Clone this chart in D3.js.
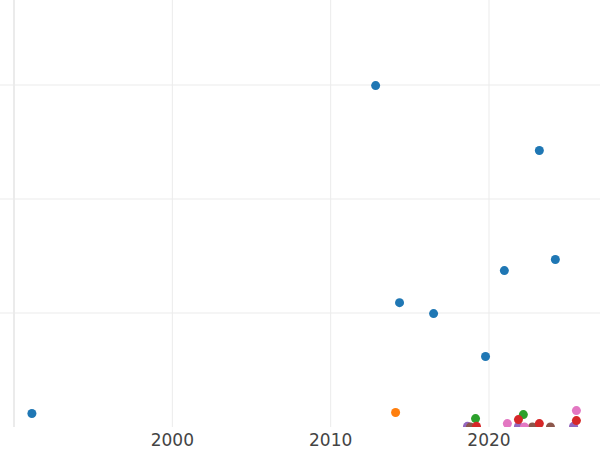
<!DOCTYPE html>
<html><head><meta charset="utf-8">
<script src="https://cdn.jsdelivr.net/npm/d3@7"></script>
<style>body{margin:0;background:#fff}</style></head>
<body><svg id="c" width="600" height="450"></svg>
<script>
const seriesNames = ["A","B","C","D","E","F","G"];
const colors = ["#1f77b4","#ff7f0e","#2ca02c","#d62728","#9467bd","#8c564b","#e377c2"];
const years = [
 [1991.13,2012.84,2023.18,2014.35,2016.5,2019.78,2020.97,2024.19],
 [2014.1],
 [2019.15,2022.17],
 [2019.21,2021.86,2023.18,2025.52],
 [2018.64,2021.86,2025.34],
 [2018.83,2022.74,2023.88],
 [2021.16,2022.24,2025.52]
];
const values = [
 [11.8,299.5,242.5,109.1,99.5,61.8,137.2,146.9],
 [12.7],
 [7.4,10.9],
 [0.6,6.5,3,5.6],
 [0.6,0.6,0.6],
 [0,0,0],
 [3,0,14.4]
];
const xTicks = [2000,2010,2020];
const yTicks = [0,100,200,300];

const svg = d3.select("#c");
const x = d3.scaleLinear().domain([1990,2020]).range([14,489]);
const y = d3.scaleLinear().domain([0,100]).range([427,313]);
const W=600, B=427;
svg.append("defs").append("clipPath").attr("id","clip").append("rect").attr("x",0).attr("y",0).attr("width",W).attr("height",B);
const g = svg.append("g");
g.selectAll(".gy").data(yTicks.slice(1)).join("line").attr("x1",0).attr("x2",W)
 .attr("y1",d=>y(d)).attr("y2",d=>y(d)).attr("stroke","#ebebeb").attr("stroke-width",1);
g.selectAll(".gx").data([1990,...xTicks]).join("line").attr("y1",0).attr("y2",B)
 .attr("x1",d=>x(d)).attr("x2",d=>x(d)).attr("stroke","#ebebeb").attr("stroke-width",d=>d===1990?2:1);
const pts = svg.append("g").attr("clip-path","url(#clip)");
[4,5,2,3,6,1,0].forEach(i=>{
  pts.selectAll(null).data(years[i].map((yr,j)=>[yr,values[i][j]])).join("circle")
   .attr("cx",d=>x(d[0])).attr("cy",d=>y(d[1])).attr("r",4.5).attr("fill",colors[i]);
});
svg.selectAll(".xt").data(xTicks).join("text").attr("x",d=>x(d)).attr("y",446)
 .attr("text-anchor","middle").attr("font-family","DejaVu Sans, sans-serif").attr("font-size",17)
 .attr("fill","#444").text(d=>d);
</script></body></html>
